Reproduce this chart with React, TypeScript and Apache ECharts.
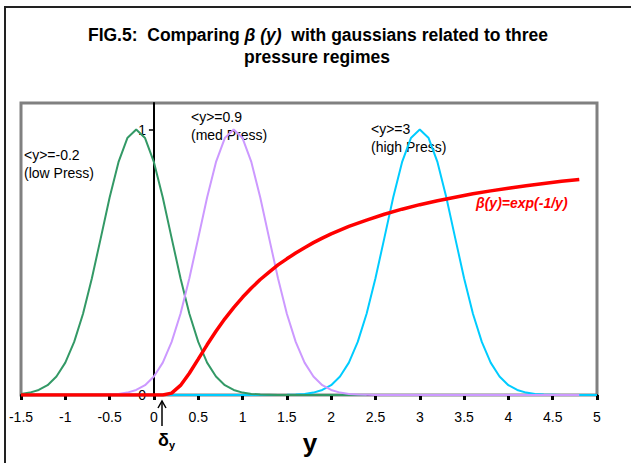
import React, { useEffect, useRef } from 'react';
import * as echarts from 'echarts';

// Gaussian <y>=-0.2 (low pressure)
const lowPress: number[][] = [
  [-1.5, 0.004], [-1.4, 0.009], [-1.3, 0.019], [-1.2, 0.037], [-1.1, 0.07], [-1.0, 0.122],
  [-0.9, 0.2], [-0.8, 0.306], [-0.7, 0.44], [-0.6, 0.591], [-0.5, 0.744], [-0.4, 0.877],
  [-0.3, 0.968], [-0.2, 1], [-0.1, 0.968], [0, 0.877], [0.1, 0.744], [0.2, 0.591],
  [0.3, 0.44], [0.4, 0.306], [0.5, 0.2], [0.6, 0.122], [0.7, 0.07], [0.8, 0.037],
  [0.9, 0.019], [1.0, 0.009], [1.1, 0.004], [1.2, 0.002], [1.3, 0.001], [1.4, 0],
  [1.6, 0], [1.8, 0], [2.0, 0], [2.2, 0], [2.4, 0],
];

// Gaussian <y>=0.9 (medium pressure)
const medPress: number[][] = [
  [-1.5, 0], [-1.0, 0], [-0.7, 0], [-0.6, 0.001], [-0.5, 0.002], [-0.4, 0.004],
  [-0.3, 0.009], [-0.2, 0.019], [-0.1, 0.037], [0, 0.07], [0.1, 0.122], [0.2, 0.2],
  [0.3, 0.306], [0.4, 0.44], [0.5, 0.591], [0.6, 0.744], [0.7, 0.877], [0.8, 0.968],
  [0.9, 1], [1.0, 0.968], [1.1, 0.877], [1.2, 0.744], [1.3, 0.591], [1.4, 0.44],
  [1.5, 0.306], [1.6, 0.2], [1.7, 0.122], [1.8, 0.07], [1.9, 0.037], [2.0, 0.019],
  [2.1, 0.009], [2.2, 0.004], [2.3, 0.002], [2.4, 0.001], [2.5, 0], [3.0, 0],
  [3.5, 0], [4.0, 0], [4.5, 0], [4.8, 0],
];

// Gaussian <y>=3 (high pressure)
const highPress: number[][] = [
  [0, 0], [0.5, 0], [1.0, 0], [1.5, 0.001], [1.6, 0.002], [1.7, 0.004], [1.8, 0.009],
  [1.9, 0.019], [2.0, 0.037], [2.1, 0.07], [2.2, 0.122], [2.3, 0.2], [2.4, 0.306],
  [2.5, 0.44], [2.6, 0.591], [2.7, 0.744], [2.8, 0.877], [2.9, 0.968], [3.0, 1],
  [3.1, 0.968], [3.2, 0.877], [3.3, 0.744], [3.4, 0.591], [3.5, 0.44], [3.6, 0.306],
  [3.7, 0.2], [3.8, 0.122], [3.9, 0.07], [4.0, 0.037], [4.1, 0.019], [4.2, 0.009],
  [4.3, 0.004], [4.4, 0.002], [4.5, 0.001], [4.6, 0], [5.0, 0],
];

// beta(y) = exp(-1/y)
const betaCurve: number[][] = [
  [-1.5, 0], [0, 0], [0.1, 0], [0.2, 0.007], [0.3, 0.036], [0.4, 0.082], [0.5, 0.135],
  [0.6, 0.189], [0.7, 0.24], [0.8, 0.287], [0.9, 0.329], [1.0, 0.368], [1.1, 0.403],
  [1.2, 0.435], [1.3, 0.463], [1.4, 0.49], [1.5, 0.513], [1.6, 0.535], [1.7, 0.555],
  [1.8, 0.574], [1.9, 0.591], [2.0, 0.607], [2.2, 0.635], [2.4, 0.659], [2.6, 0.681],
  [2.8, 0.7], [3.0, 0.717], [3.2, 0.732], [3.4, 0.745], [3.6, 0.758], [3.8, 0.769],
  [4.0, 0.779], [4.2, 0.788], [4.4, 0.797], [4.6, 0.805], [4.8, 0.812],
];

const yTickValues = [0, 1];
const xMin = -1.5;
const xMax = 5;

const FONT = '"Liberation Sans", Arial, sans-serif';

export default function App() {
  const ref = useRef<HTMLDivElement>(null);
  useEffect(() => {
    const chart = echarts.init(ref.current!, null, { renderer: 'svg' });
    const W = 631;
    const gridLeft = 21;
    const gridRight = 34;
    const plotW = W - gridLeft - gridRight;
    // shift y axis so it sits on x = 0
    const yAxisOffset = -((0 - xMin) / (xMax - xMin)) * plotW;
    const lineSeries = (name: string, data: number[][], color: string, width: number) => ({
      name,
      type: 'line',
      data,
      symbol: 'none',
      showSymbol: false,
      smooth: false,
      lineStyle: { color, width },
      itemStyle: { color },
      silent: true,
    });
    chart.setOption({
      animation: false,
      backgroundColor: '#ffffff',
      grid: {
        left: gridLeft,
        right: gridRight,
        top: 103,
        bottom: 68,
        show: true,
        borderColor: '#808080',
        borderWidth: 3,
        backgroundColor: 'transparent',
        containLabel: false,
        outerBoundsMode: 'none',
      },
      xAxis: {
        type: 'value',
        min: xMin,
        max: xMax,
        interval: 0.5,
        axisLine: { show: true, onZero: true, lineStyle: { color: '#000', width: 2 } },
        axisTick: { show: true, inside: false, length: 5, lineStyle: { color: '#000', width: 3 } },
        axisLabel: { color: '#000', fontSize: 14, fontFamily: FONT, margin: 15 },
        splitLine: { show: false },
      },
      yAxis: {
        type: 'value',
        min: 0,
        max: 1.1,
        interval: 1,
        offset: yAxisOffset,
        axisLine: { show: true, onZero: false, lineStyle: { color: '#000', width: 2 } },
        axisTick: {
          show: true,
          inside: false,
          length: 5,
          customValues: yTickValues,
          lineStyle: { color: '#000', width: 1.5 },
        },
        axisLabel: {
          color: '#000',
          fontSize: 14,
          fontFamily: FONT,
          margin: 8,
          customValues: yTickValues,
          formatter: (v: number) => (v === 0 || v === 1 ? String(v) : ''),
        },
        splitLine: { show: false },
      },
      series: [
        lineSeries('<y>=3', highPress, '#00CCFF', 2),
        lineSeries('<y>=-0.2', lowPress, '#339966', 2),
        lineSeries('<y>=0.9', medPress, '#CC99FF', 2),
        lineSeries('beta(y)', betaCurve, '#FF0000', 3.5),
      ],
      graphic: [
        {
          type: 'rect',
          silent: true,
          shape: { x: 5, y: 7, width: 700, height: 600 },
          style: { fill: 'none', stroke: '#222', lineWidth: 2 },
        },
        {
          type: 'text',
          x: 318,
          y: 35,
          style: {
            text: '{b|FIG.5:  Comparing }{bi|β (y)}{b|  with gaussians related to three}',
            align: 'center',
            verticalAlign: 'middle',
            rich: {
              b: { fontSize: 17.5, fontWeight: 'bold', fontFamily: FONT, fill: '#000' },
              bi: { fontSize: 17.5, fontWeight: 'bold', fontStyle: 'italic', fontFamily: FONT, fill: '#000' },
            },
          },
        },
        {
          type: 'text',
          x: 317,
          y: 57,
          style: {
            text: 'pressure regimes',
            align: 'center',
            verticalAlign: 'middle',
            fontSize: 17.5,
            fontWeight: 'bold',
            fontFamily: FONT,
            fill: '#000',
          },
        },
        {
          type: 'text',
          x: 24,
          y: 146,
          style: {
            text: '<y>=-0.2\n(low Press)',
            fontSize: 14,
            lineHeight: 18,
            fontFamily: FONT,
            fill: '#000',
            verticalAlign: 'top',
          },
        },
        {
          type: 'text',
          x: 191,
          y: 108,
          style: {
            text: '<y>=0.9\n(med Press)',
            fontSize: 14,
            lineHeight: 18,
            fontFamily: FONT,
            fill: '#000',
            verticalAlign: 'top',
          },
        },
        {
          type: 'text',
          x: 371,
          y: 120,
          style: {
            text: '<y>=3\n(high Press)',
            fontSize: 14,
            lineHeight: 18,
            fontFamily: FONT,
            fill: '#000',
            verticalAlign: 'top',
          },
        },
        {
          type: 'text',
          x: 476,
          y: 203,
          style: {
            text: 'β(y)=exp(-1/y)',
            fontSize: 14,
            fontWeight: 'bold',
            fontStyle: 'italic',
            fontFamily: FONT,
            fill: '#FF0000',
            verticalAlign: 'middle',
          },
        },
        {
          type: 'line',
          silent: true,
          shape: { x1: 162, y1: 426, x2: 162, y2: 401 },
          style: { stroke: '#000', lineWidth: 1.5 },
        },
        {
          type: 'polyline',
          silent: true,
          shape: { points: [[158, 408], [162, 401], [166, 408]] },
          style: { stroke: '#000', lineWidth: 1.5, fill: 'none' },
        },
        {
          type: 'text',
          x: 158,
          y: 440,
          style: {
            text: '{d|δ}{s|y}',
            verticalAlign: 'middle',
            rich: {
              d: { fontSize: 18, fontWeight: 'bold', fontFamily: FONT, fill: '#000' },
              s: { fontSize: 11, fontWeight: 'bold', fontFamily: FONT, fill: '#000', padding: [9, 0, 0, 0] },
            },
          },
        },
        {
          type: 'text',
          x: 310,
          y: 443,
          style: {
            text: 'y',
            align: 'center',
            verticalAlign: 'middle',
            fontSize: 26,
            fontWeight: 'bold',
            fontFamily: FONT,
            fill: '#000',
          },
        },
      ],
    });
    return () => chart.dispose();
  }, []);
  return (
    <div
      ref={ref}
      style={{ position: 'fixed', left: 0, top: 0, width: 631, height: 463, background: '#fff' }}
    />
  );
}
